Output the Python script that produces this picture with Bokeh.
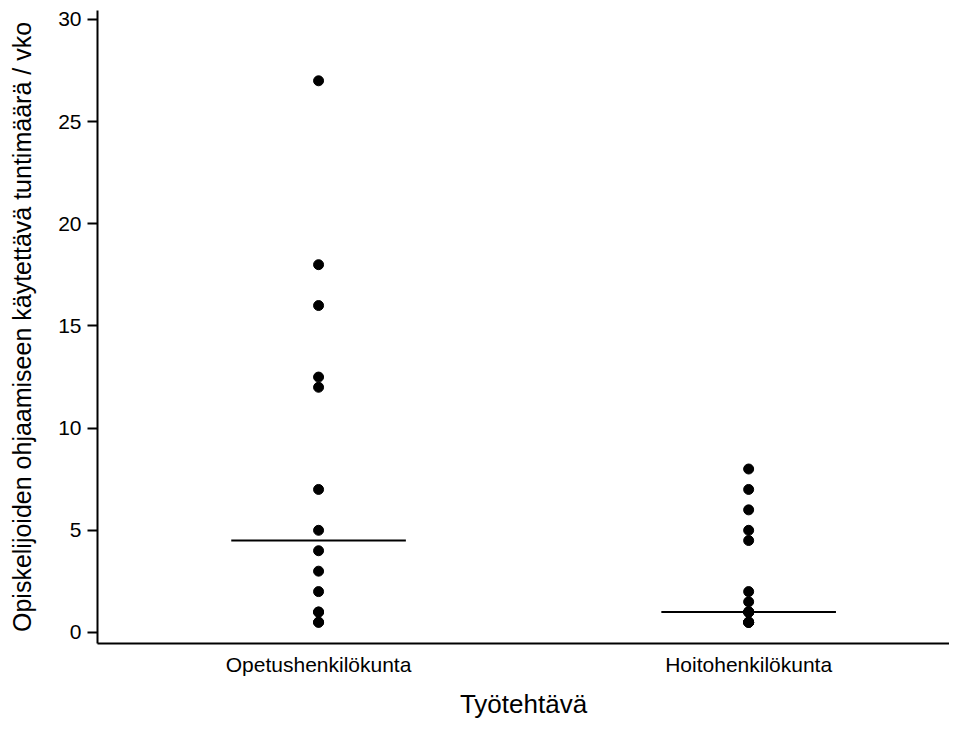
import numpy as np
from bokeh.plotting import figure
from bokeh.models import ColumnDataSource, FixedTicker, Range1d
from bokeh.embed import file_html
from bokeh.resources import INLINE

categories = ["Opetushenkilökunta", "Hoitohenkilökunta"]
opetus_values = [27, 18, 16, 12.5, 12, 7, 5, 4, 3, 2, 1, 1, 0.5, 0.5]
hoito_values = [8, 7, 6, 5, 4.5, 2, 1.5, 1, 1, 1, 1, 0.5, 0.5, 0.5, 0.5]
y_ticks = [0, 5, 10, 15, 20, 25, 30]

series = [opetus_values, hoito_values]
xs, ys = [], []
for i, vals in enumerate(series):
    xs += [i + 1] * len(vals)
    ys += vals
pts = ColumnDataSource(dict(x=xs, y=ys))

medians = [float(np.median(v)) for v in series]
med = ColumnDataSource(dict(
    x0=[i + 1 - 0.203 for i in range(len(categories))],
    x1=[i + 1 + 0.203 for i in range(len(categories))],
    y=medians,
))

p = figure(width=949, height=721, output_backend="svg", toolbar_location=None,
           x_range=Range1d(0.486, 2.467), y_range=Range1d(-0.54, 30.44),
           min_border_left=97, min_border_top=10, min_border_right=0, min_border_bottom=0)
p.outline_line_color = None
p.xgrid.grid_line_color = None
p.ygrid.grid_line_color = None
p.background_fill_color = "white"
p.border_fill_color = "white"

p.scatter("x", "y", source=pts, size=10, color="black", line_color="black")
p.segment(x0="x0", y0="y", x1="x1", y1="y", source=med, line_color="black", line_width=2)

p.xaxis.ticker = FixedTicker(ticks=[1, 2])
p.xaxis.major_label_overrides = {1: categories[0], 2: categories[1]}
p.xaxis.major_tick_out = 0
p.xaxis.major_tick_in = 0
p.xaxis.minor_tick_out = 0
p.xaxis.minor_tick_in = 0
p.xaxis.axis_label = "Työtehtävä"

p.yaxis.ticker = FixedTicker(ticks=y_ticks)
p.yaxis.major_tick_out = 10
p.yaxis.major_tick_in = 0
p.yaxis.minor_tick_out = 0
p.yaxis.minor_tick_in = 0
p.yaxis.axis_label = "Opiskelijoiden ohjaamiseen käytettävä tuntimäärä / vko"

for ax in (p.xaxis[0], p.yaxis[0]):
    ax.axis_line_color = "black"
    ax.axis_line_width = 2
    ax.major_tick_line_color = "black"
    ax.major_tick_line_width = 2
    ax.major_label_text_font = "Liberation Sans"
    ax.major_label_text_font_size = "21px"
    ax.major_label_text_color = "black"
    ax.axis_label_text_font = "Liberation Sans"
    ax.axis_label_text_font_style = "normal"
    ax.axis_label_text_color = "black"

p.xaxis.axis_label_text_font_size = "26px"
p.yaxis.axis_label_text_font_size = "25px"
p.yaxis.major_label_standoff = 6
p.yaxis.axis_label_standoff = 19
p.xaxis.major_label_standoff = 9
p.xaxis.axis_label_standoff = 10

open("out.html", "w").write(file_html(p, INLINE))
